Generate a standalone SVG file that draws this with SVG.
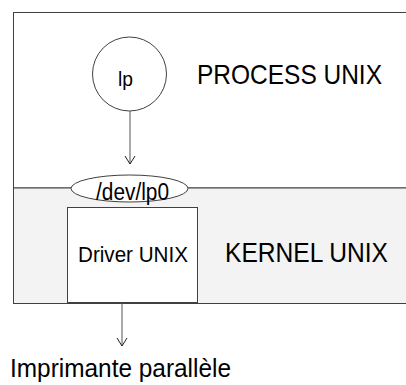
<svg xmlns="http://www.w3.org/2000/svg" width="406" height="385" viewBox="0 0 406 385">
<style>
text{font-family:"Liberation Sans",Arial,sans-serif;fill:#000}
.box{stroke:#404040;stroke-width:1}
.conn{stroke:#555;stroke-width:1;fill:none}
</style>
<defs>
<marker id="arr" markerWidth="12" markerHeight="12" viewBox="0 0 12 12" refX="10" refY="6" orient="auto" markerUnits="userSpaceOnUse">
<path d="M2,1 L10,6 L2,11" fill="none" stroke="#222" stroke-width="1"/>
</marker>
</defs>
<rect width="406" height="385" fill="#fff"/>
<g id="process">
<rect class="box" x="13.5" y="12.5" width="420" height="175.5" fill="#fff"/>
<text x="197" y="84" font-size="27.5" textLength="185" lengthAdjust="spacingAndGlyphs">PROCESS UNIX</text>
</g>
<g id="kernel">
<rect class="box" x="13.5" y="188" width="420" height="115.5" fill="#f3f3f3"/>
<text x="225" y="262" font-size="27.5" textLength="163" lengthAdjust="spacingAndGlyphs">KERNEL UNIX</text>
</g>
<g id="lp">
<circle class="box" cx="129.5" cy="74" r="37" fill="#fff"/>
<text x="118" y="86" font-size="21" textLength="15" lengthAdjust="spacingAndGlyphs">lp</text>
</g>
<g id="driver">
<rect class="box" x="67.5" y="207.5" width="130" height="95" fill="#fff"/>
<text x="78" y="262" font-size="22" textLength="110" lengthAdjust="spacingAndGlyphs">Driver UNIX</text>
</g>
<g id="devlp0">
<ellipse class="box" cx="129.5" cy="188.5" rx="58.5" ry="13.5" fill="#fff"/>
<text x="96" y="200" font-size="23" textLength="73" lengthAdjust="spacingAndGlyphs">/dev/lp0</text>
</g>
<g id="printer">
<text x="10" y="377" font-size="26" textLength="221" lengthAdjust="spacingAndGlyphs">Imprimante parallèle</text>
</g>
<g id="connectors">
<line class="conn" x1="130" y1="111" x2="130" y2="164" marker-end="url(#arr)"/>
<line class="conn" x1="122" y1="303" x2="122" y2="346" marker-end="url(#arr)"/>
</g>
</svg>
